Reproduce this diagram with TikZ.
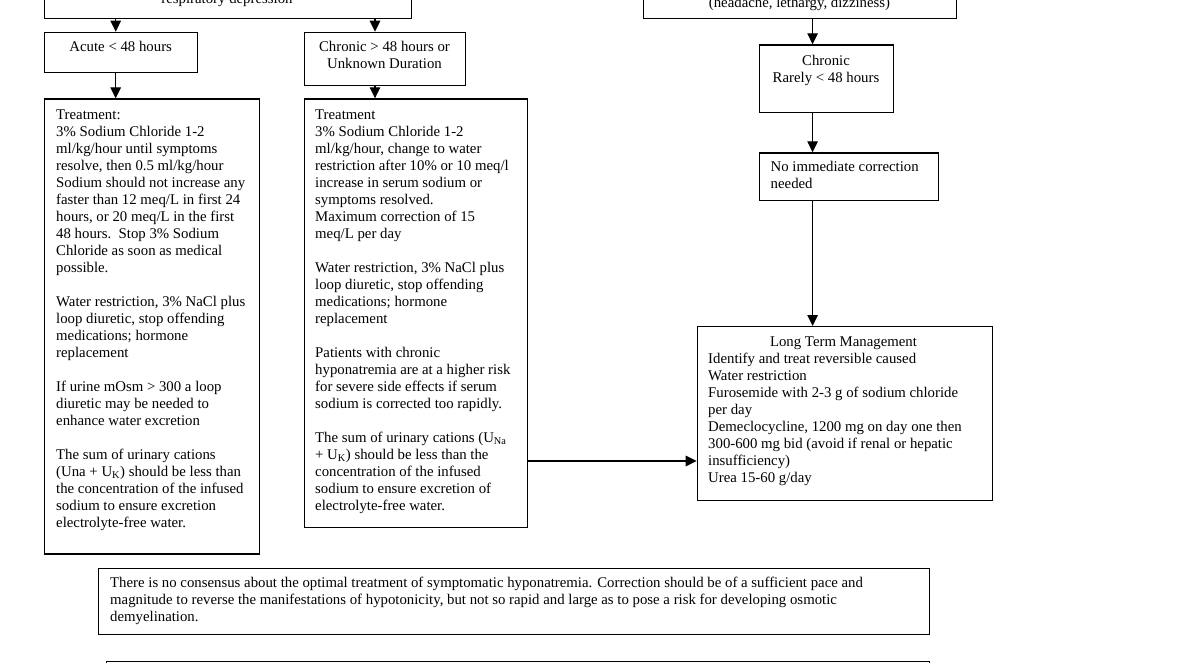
\documentclass[tikz,border=0pt]{standalone}
\usepackage{fontspec}
\setmainfont{Liberation Serif}
\usetikzlibrary{arrows.meta,calc}
\begin{document}
\begin{tikzpicture}[x=1pt,y=-1pt,
  box/.style={draw, line width=1.3pt, inner sep=0pt, anchor=north west},
  txt/.style={inner sep=0pt, font=\fontsize{14.8}{17}\selectfont},
  arr/.style={line width=1.3pt, -{Triangle[width=10.5pt,length=11pt]}}]
\useasboundingbox (0,0) rectangle (1184,662);
\clip (0,0) rectangle (1184,662);
\fill[white] (0,0) rectangle (1184,662);

% boxes
\node[box, minimum width=367pt, minimum height=77.5pt] (tl) at (44,-60) {};
\node[box, minimum width=312.5pt, minimum height=77.7pt] (tr) at (643,-60) {};
\node[box, minimum width=153pt, minimum height=40pt] (acute) at (44,31.7) {};
\node[box, minimum width=161pt, minimum height=53.3pt] (chr) at (304,31.7) {};
\node[box, minimum width=214.7pt, minimum height=455pt] (t1) at (44,98.3) {};
\node[box, minimum width=222.7pt, minimum height=428.4pt] (t2) at (304,98.3) {};
\node[box, minimum width=134pt, minimum height=67.7pt] (cr) at (759,44.3) {};
\node[box, minimum width=179pt, minimum height=47.7pt] (ni) at (759,152.3) {};
\node[box, minimum width=295pt, minimum height=174pt] (ltm) at (696.7,326) {};
\node[box, minimum width=831pt, minimum height=66pt] (note) at (98,568) {};
\node[box, minimum width=823pt, minimum height=60pt] (last) at (106,661) {};

% texts
\node[txt, anchor=base] (tltext) at (227,3.5) {respiratory depression};
\node[txt, anchor=base] (trtext) at (799.5,7.5) {(headache, lethargy, dizziness)};
\node[txt, anchor=base] (acutetext) at (120.7,51.5) {Acute < 48 hours};
\node[txt, align=center, anchor=north] (chrtext) at (384.5,39.6) {\strut Chronic > 48 hours or\\ Unknown Duration};
\node[txt, align=center, anchor=north] (crtext) at (826,53.6) {\strut Chronic\\ Rarely < 48 hours};
\node[txt, align=left, anchor=north west] (nitext) at (770.5,159.6) {\strut No immediate correction\\ needed};

\node[txt, align=left, anchor=north west] (t1text) at (56,107) {\strut Treatment:\\
3\% Sodium Chloride 1-2\\
ml/kg/hour until symptoms\\
resolve, then 0.5 ml/kg/hour\\
Sodium should not increase any\\
faster than 12 meq/L in first 24\\
hours, or 20 meq/L in the first\\
48 hours.\ \ Stop 3\% Sodium\\
Chloride as soon as medical\\
possible.\\[17pt]
Water restriction, 3\% NaCl plus\\
loop diuretic, stop offending\\
medications; hormone\\
replacement\\[17pt]
If urine mOsm > 300 a loop\\
diuretic may be needed to\\
enhance water excretion\\[17pt]
The sum of urinary cations\\
(Una + U\textsubscript{K}) should be less than\\
the concentration of the infused\\
sodium to ensure excretion\\
electrolyte-free water.};

\node[txt, align=left, anchor=north west] (t2text) at (315,107) {\strut Treatment\\
3\% Sodium Chloride 1-2\\
ml/kg/hour, change to water\\
restriction after 10\% or 10 meq/l\\
increase in serum sodium or\\
symptoms resolved.\\
Maximum correction of 15\\
meq/L per day\\[17pt]
Water restriction, 3\% NaCl plus\\
loop diuretic, stop offending\\
medications; hormone\\
replacement\\[17pt]
Patients with chronic\\
hyponatremia are at a higher risk\\
for severe side effects if serum\\
sodium is corrected too rapidly.\\[17pt]
The sum of urinary cations (U\textsubscript{Na}\\
+ U\textsubscript{K}) should be less than the\\
concentration of the infused\\
sodium to ensure excretion of\\
electrolyte-free water.};

\node[txt, anchor=base] (ltmtitle) at (843.5,346.3) {Long Term Management};
\node[txt, align=left, anchor=north west] (ltmtext) at (708,351.6) {\strut Identify and treat reversible caused\\
Water restriction\\
Furosemide with 2-3 g of sodium chloride\\
per day\\
Demeclocycline, 1200 mg on day one then\\
300-600 mg bid (avoid if renal or hepatic\\
insufficiency)\\
Urea 15-60 g/day};

\node[txt, align=left, anchor=north west] (notetext) at (110,575) {\strut There is no consensus about the optimal treatment of symptomatic hyponatremia. Correction should be of a sufficient pace and\\
magnitude to reverse the manifestations of hypotonicity, but not so rapid and large as to pose a risk for developing osmotic\\
demyelination.};

% connectors
\coordinate (xa) at (115.7,0);
\coordinate (xb) at (375,0);
\coordinate (xc) at (812.6,0);
\coordinate (ya) at (0,461);
\draw[arr] (xa |- tl.south) -- (xa |- acute.north);
\draw[arr] (xb |- tl.south) -- (xb |- chr.north);
\draw[arr] (xa |- acute.south) -- (xa |- t1.north);
\draw[arr] (xb |- chr.south) -- (xb |- t2.north);
\draw[arr] (xc |- tr.south) -- (xc |- cr.north);
\draw[arr] (xc |- cr.south) -- (xc |- ni.north);
\draw[arr] (xc |- ni.south) -- (xc |- ltm.north);
\draw[arr] (t2.east |- ya) -- (ltm.west |- ya);
\end{tikzpicture}
\end{document}
